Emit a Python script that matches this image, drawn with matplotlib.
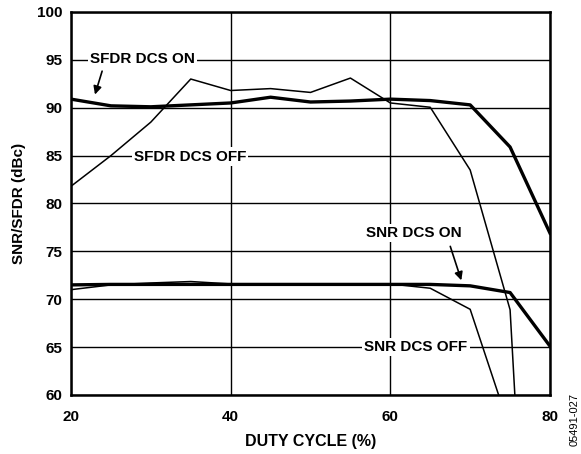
import matplotlib
matplotlib.use("Agg")
import matplotlib.pyplot as plt

duty = [20, 25, 30, 35, 40, 45, 50, 55, 60, 65, 70, 75, 80]
sfdr_on = [90.9, 90.2, 90.1, 90.3, 90.5, 91.1, 90.6, 90.7, 90.9, 90.75, 90.3, 85.9, 76.9]

duty_sfdr_off = [20, 25, 30, 35, 40, 45, 50, 55, 60, 65, 70, 75, 76]
sfdr_off = [81.8, 85.0, 88.5, 93.0, 91.8, 92.0, 91.6, 93.1, 90.5, 90.05, 83.5, 68.9, 54.0]

snr_on = [71.5, 71.55, 71.55, 71.55, 71.55, 71.55, 71.55, 71.55, 71.55, 71.55, 71.4, 70.7, 65.1]

duty_snr_off = [20, 25, 30, 35, 40, 45, 50, 55, 60, 65, 70, 75]
snr_off = [71.0, 71.5, 71.7, 71.85, 71.6, 71.6, 71.6, 71.6, 71.6, 71.15, 68.95, 56.4]

xticks = [20, 40, 60, 80]
yticks = [60, 65, 70, 75, 80, 85, 90, 95, 100]

plt.rcParams['font.family'] = ['Liberation Sans', 'DejaVu Sans']

fig = plt.figure(figsize=(5.81, 4.54), dpi=100)
ax = fig.add_axes([71/581, 1-395/454, (550-71)/581, (395-12)/454])

ax.set_xlim(20, 80)
ax.set_ylim(60, 100)
ax.set_xticks(xticks)
ax.set_yticks(yticks)
ax.grid(True, color='black', linewidth=1.0)
ax.set_axisbelow(True)
ax.tick_params(length=0, labelsize=11)
ax.tick_params(axis='x', pad=11)
ax.tick_params(axis='y', pad=6)
for lab in ax.get_xticklabels() + ax.get_yticklabels():
    lab.set_fontweight('bold')
for sp in ax.spines.values():
    sp.set_linewidth(1.8)

ax.plot(duty, sfdr_on, color='black', lw=2.4, zorder=3)
ax.plot(duty_sfdr_off, sfdr_off, color='black', lw=1.1, zorder=3)
ax.plot(duty, snr_on, color='black', lw=2.4, zorder=3)
ax.plot(duty_snr_off, snr_off, color='black', lw=1.1, zorder=3)

box = dict(facecolor='white', edgecolor='none', pad=1.5)
kw = dict(fontsize=11, fontweight='bold', ha='center', va='center', bbox=box, zorder=4)
ax.text(29.0, 95.1, 'SFDR DCS ON', **kw)
ax.text(34.9, 84.9, 'SFDR DCS OFF', **kw)
ax.text(63.0, 76.9, 'SNR DCS ON', **kw)
ax.text(63.2, 65.0, 'SNR DCS OFF', **kw)

arrow = dict(arrowstyle='-|>', color='black', lw=1.2, mutation_scale=12)
ax.annotate('', xy=(22.9, 91.1), xytext=(24.0, 94.1), arrowprops=arrow, zorder=4)
ax.annotate('', xy=(69.0, 71.7), xytext=(67.4, 75.8), arrowprops=arrow, zorder=4)

ax.set_xlabel('DUTY CYCLE (%)', fontsize=11.5, fontweight='bold', labelpad=7)
ax.set_ylabel('SNR/SFDR (dBc)', fontsize=11, fontweight='bold', labelpad=8)

fig.text(575/581, 1-420/454, '05491-027', rotation=90, fontsize=8, ha='center', va='center')

fig.savefig('out.png', dpi=100)
